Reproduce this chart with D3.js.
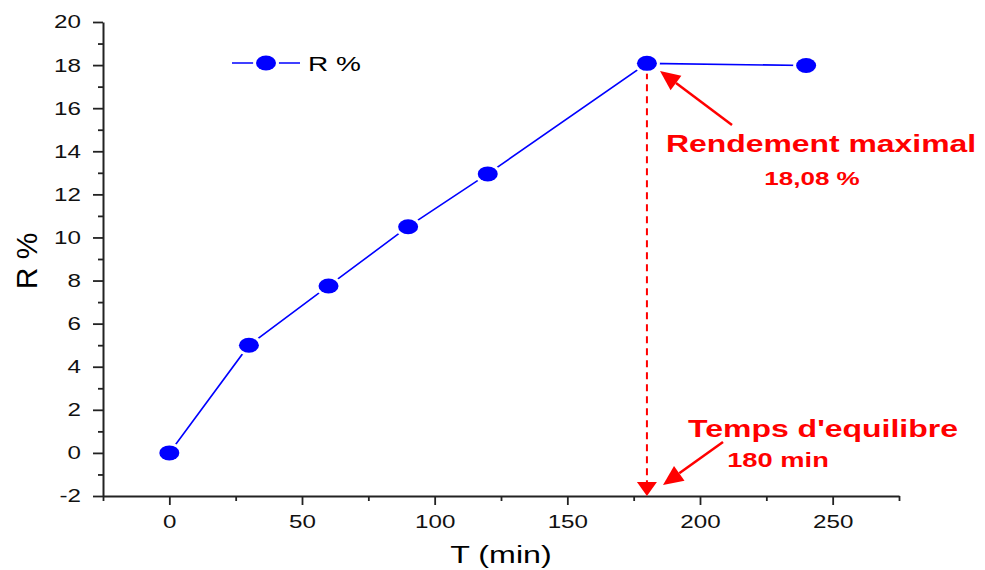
<!DOCTYPE html>
<html>
<head>
<meta charset="utf-8">
<script src="https://cdn.jsdelivr.net/npm/d3@7"></script>
<style>
  body { margin: 0; background: #fff; }
  text { font-family: "Liberation Sans", Arial, sans-serif; }
</style>
</head>
<body>
<div id="chart"></div>
<script>
// data
var times = [0, 30, 60, 90, 120, 180, 240];
var rendement = [0, 5.0, 7.75, 10.5, 12.95, 18.08, 17.98];
var xTicks = [0, 50, 100, 150, 200, 250];
var yTicks = [-2, 0, 2, 4, 6, 8, 10, 12, 14, 16, 18, 20];
var seriesName = "R %";

var svgWidth = 985, svgHeight = 570;
var margin = { top: 22, right: 86, bottom: 74, left: 103 };
var width = svgWidth - margin.left - margin.right;
var height = svgHeight - margin.top - margin.bottom;

// the original figure's text is drawn wide
var SX = 1.4;

var svg = d3.select("#chart").append("svg")
  .attr("width", svgWidth)
  .attr("height", svgHeight);

var g = svg.append("g")
  .attr("transform", `translate(${margin.left}, ${margin.top})`);

var x = d3.scaleLinear().domain([-25, 275]).range([0, width]);
var y = d3.scaleLinear().domain([-2, 20]).range([height, 0]);

function widen(sel, f) {
  sel.each(function() {
    var t = d3.select(this);
    var tx = +t.attr("x") || 0, ty = +t.attr("y") || 0;
    t.attr("x", 0).attr("y", 0)
      .attr("transform", `translate(${tx},${ty}) scale(${f},1)`);
  });
}

// minor ticks
g.append("g")
  .attr("transform", `translate(0, ${height})`)
  .call(d3.axisBottom(x).tickValues([-25, 25, 75, 125, 175, 225, 275]).tickSize(5).tickFormat(""))
  .call(s => s.select(".domain").remove());
g.append("g")
  .call(d3.axisLeft(y).tickValues(d3.range(-1, 20, 2)).tickSize(5).tickFormat(""))
  .call(s => s.select(".domain").remove());

var xAxis = g.append("g")
  .attr("transform", `translate(0, ${height})`)
  .call(d3.axisBottom(x).tickValues(xTicks).tickSize(9).tickSizeOuter(0).tickPadding(10));
var yAxis = g.append("g")
  .call(d3.axisLeft(y).tickValues(yTicks).tickSize(10).tickSizeOuter(0).tickPadding(12)
    .tickFormat(d => d < 0 ? "-" + Math.abs(d) : d));

[xAxis, yAxis].forEach(a => {
  a.selectAll("text").attr("font-size", 18.6).attr("fill", "#111")
    .style("font-family", "Liberation Sans, Arial, sans-serif");
  widen(a.selectAll("text"), 1.3);
  a.select(".domain").attr("stroke", "#222").attr("stroke-width", 2);
});
g.selectAll(".tick line").attr("stroke", "#222").attr("stroke-width", 1.8);

// axis titles
svg.append("text")
  .attr("transform", `translate(37, 261) rotate(-90)`)
  .attr("text-anchor", "middle")
  .attr("font-size", 30)
  .text("R %");
svg.append("text")
  .attr("transform", `translate(501, 563) scale(${SX},1)`)
  .attr("text-anchor", "middle")
  .attr("font-size", 23)
  .text("T (min)");

var pts = times.map((t, i) => ({ t: t, r: rendement[i] }));

// dashed drop line at equilibrium point
var eq = pts[5];
g.append("line")
  .attr("x1", x(eq.t)).attr("x2", x(eq.t))
  .attr("y1", y(eq.r) + 9).attr("y2", height - 12)
  .attr("stroke", "#ff0000").attr("stroke-width", 2)
  .attr("stroke-dasharray", "7,5");
g.append("path")
  .attr("d", `M${x(eq.t) - 10},${height - 14} L${x(eq.t) + 10},${height - 14} L${x(eq.t)},${height} Z`)
  .attr("fill", "#ff0000");

// line + markers
var line = d3.line().x(d => x(d.t)).y(d => y(d.r));
g.append("path")
  .datum(pts)
  .attr("d", line)
  .attr("fill", "none")
  .attr("stroke", "#0000ff")
  .attr("stroke-width", 1.6);

g.selectAll("ellipse.pt")
  .data(pts)
  .enter()
  .append("ellipse")
  .attr("class", "pt")
  .attr("cx", d => x(d.t))
  .attr("cy", d => y(d.r))
  .attr("rx", 10).attr("ry", 7.5)
  .attr("fill", "#0000ff")
  .attr("stroke", "#fff")
  .attr("stroke-width", 6)
  .attr("paint-order", "stroke");

// legend
var leg = svg.append("g").attr("transform", "translate(232, 63)");
leg.append("line").attr("x1", 0).attr("x2", 68).attr("y1", 0).attr("y2", 0)
  .attr("stroke", "#0000ff").attr("stroke-width", 1.6);
leg.append("ellipse").attr("cx", 34).attr("cy", 0).attr("rx", 10).attr("ry", 7.5)
  .attr("fill", "#0000ff").attr("stroke", "#fff").attr("stroke-width", 6).attr("paint-order", "stroke");
leg.append("text").attr("transform", `translate(76, 8) scale(${SX},1)`)
  .attr("font-size", 20).text(seriesName);

// annotations
function arrow(x1, y1, x2, y2) {
  var ang = Math.atan2(y2 - y1, x2 - x1);
  var len = 20, half = 9;
  var bx = x2 - len * Math.cos(ang), by = y2 - len * Math.sin(ang);
  svg.append("line").attr("x1", x1).attr("y1", y1).attr("x2", bx).attr("y2", by)
    .attr("stroke", "#ff0000").attr("stroke-width", 2.5);
  svg.append("path")
    .attr("d", `M${x2},${y2} L${bx + half * Math.sin(ang)},${by - half * Math.cos(ang)} L${bx - half * Math.sin(ang)},${by + half * Math.cos(ang)} Z`)
    .attr("fill", "#ff0000");
}
arrow(732, 125, 660, 71);
arrow(723, 442, 663, 485);

var red = "#ff0000";
function label(cx, by, size, txt, f) {
  svg.append("text")
    .attr("transform", `translate(${cx},${by}) scale(${f || SX},1)`)
    .attr("text-anchor", "middle")
    .attr("font-size", size).attr("font-weight", "bold").attr("fill", red)
    .text(txt);
}
label(821, 152, 24, "Rendement maximal", 1.33);
label(812, 185, 18.6, "18,08 %");
label(823, 437, 23.5, "Temps d'equilibre", 1.36);
label(778, 467, 19.5, "180 min");
</script>
</body>
</html>
